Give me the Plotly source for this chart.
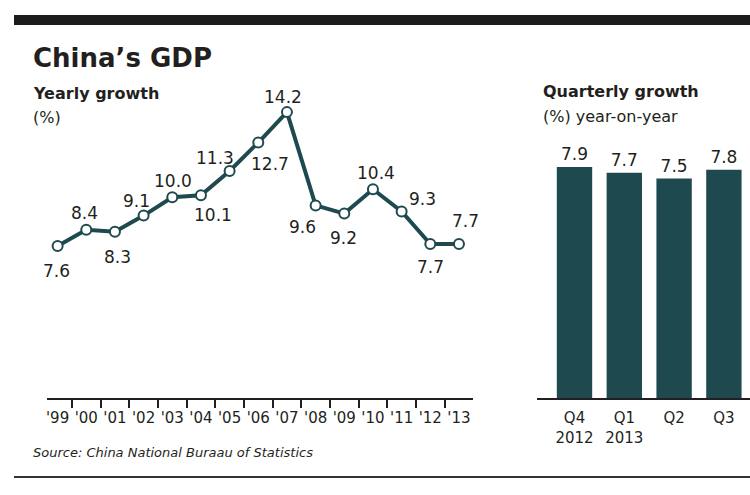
import plotly.graph_objects as go

# ---- data ----
years = ["'99", "'00", "'01", "'02", "'03", "'04", "'05", "'06", "'07",
         "'08", "'09", "'10", "'11", "'12", "'13"]
yearly_growth = [7.6, 8.4, 8.3, 9.1, 10.0, 10.1, 11.3, 12.7, 14.2,
                 9.6, 9.2, 10.4, 9.3, 7.7, 7.7]
quarters = ["Q4<br>2012", "Q1<br>2013", "Q2", "Q3"]
quarterly_growth = [7.9, 7.7, 7.5, 7.8]

# label offsets (pixels: dx right, dy down) for the yearly value labels
label_offsets = [(-1, 25), (-2, -17), (3, 25), (-7, -15), (1, -16), (12, 20),
                 (-15, -13), (12, 21), (-4, -15), (-13, 22), (-1, 24), (3, -16),
                 (21, -13), (0, 23), (7, -23)]

W, H = 750, 495
TEAL = "#1e4a4f"
INK = "#231f20"
FONT = "DejaVu Sans"


def px(x):
    return x / W


def py(y):
    return 1 - y / H


fig = go.Figure()

fig.add_trace(go.Scatter(
    x=years, y=yearly_growth, mode="lines+markers",
    line=dict(color=TEAL, width=4),
    marker=dict(size=10, color="white", line=dict(color=TEAL, width=2)),
    xaxis="x", yaxis="y", cliponaxis=False, hoverinfo="x+y",
))

fig.add_trace(go.Bar(
    x=quarters, y=quarterly_growth, marker=dict(color=TEAL, line=dict(width=0)),
    width=0.71, texttemplate="%{y:.1f}", textposition="outside",
    textfont=dict(family=FONT, size=17, color=INK),
    xaxis="x2", yaxis="y2", cliponaxis=False,
))

annotations = []
for yr, v, (dx, dy) in zip(years, yearly_growth, label_offsets):
    annotations.append(dict(
        x=yr, y=v, xref="x", yref="y", text=f"{v:.1f}", showarrow=False,
        xanchor="center", yanchor="middle", xshift=dx, yshift=-dy,
        font=dict(family=FONT, size=17, color=INK),
    ))

texts = [
    ("<b>China’s GDP</b>", 31, 58, 26),
    ("<b>Yearly growth</b>", 31, 93, 16),
    ("(%)", 31, 118, 16),
    ("<b>Quarterly growth</b>", 541, 92, 16),
    ("(%) year-on-year", 541, 117, 16),
]
for t, x, y, s in texts:
    annotations.append(dict(
        x=px(x), y=py(y), xref="paper", yref="paper", text=t, showarrow=False,
        xanchor="left", yanchor="middle", font=dict(family=FONT, size=s, color=INK),
    ))
annotations.append(dict(
    x=px(31), y=py(452), xref="paper", yref="paper",
    text="<i>Source: China National Buraau of Statistics</i>", showarrow=False,
    xanchor="left", yanchor="middle", font=dict(family=FONT, size=13, color=INK),
))

shapes = [
    dict(type="rect", xref="paper", yref="paper", x0=px(14), x1=1.0,
         y0=py(25), y1=py(15), fillcolor="#1c1c1c", line=dict(width=0)),
    dict(type="line", xref="paper", yref="paper", x0=px(14), x1=1.0,
         y0=py(477), y1=py(477), line=dict(color="#333333", width=2)),
]

fig.update_layout(
    width=W, height=H, margin=dict(l=0, r=0, t=0, b=0),
    paper_bgcolor="white", plot_bgcolor="white", showlegend=False,
    font=dict(family=FONT, color=INK),
    annotations=annotations, shapes=shapes,
    xaxis=dict(
        domain=[px(47), px(473)], type="category", range=[-0.37, 14.49],
        tickson="boundaries", ticks="outside", ticklen=8, tickwidth=1.5,
        tickcolor=INK, showline=True, linecolor=INK, linewidth=2,
        showgrid=False, zeroline=False, anchor="y", tickangle=0,
        ticklabelstandoff=5,
        tickfont=dict(family=FONT, size=15, color=INK),
    ),
    yaxis=dict(
        domain=[py(398), py(90)], range=[0.11, 15.29], visible=False,
        showgrid=False, zeroline=False, anchor="x",
    ),
    xaxis2=dict(
        domain=[px(537), 1.0], type="category", range=[-0.753, 3.524],
        ticks="outside", ticklen=5, tickcolor="rgba(0,0,0,0)",
        showline=True, linecolor=INK, linewidth=2, tickangle=0,
        showgrid=False, zeroline=False, anchor="y2",
        tickfont=dict(family=FONT, size=15, color=INK),
    ),
    yaxis2=dict(
        domain=[py(398), py(140)], range=[0, 8.82], visible=False,
        showgrid=False, zeroline=False, anchor="x2",
    ),
)

fig.write_html("out.html", config={"displayModeBar": False},
               post_script="document.body.style.margin='0';")
